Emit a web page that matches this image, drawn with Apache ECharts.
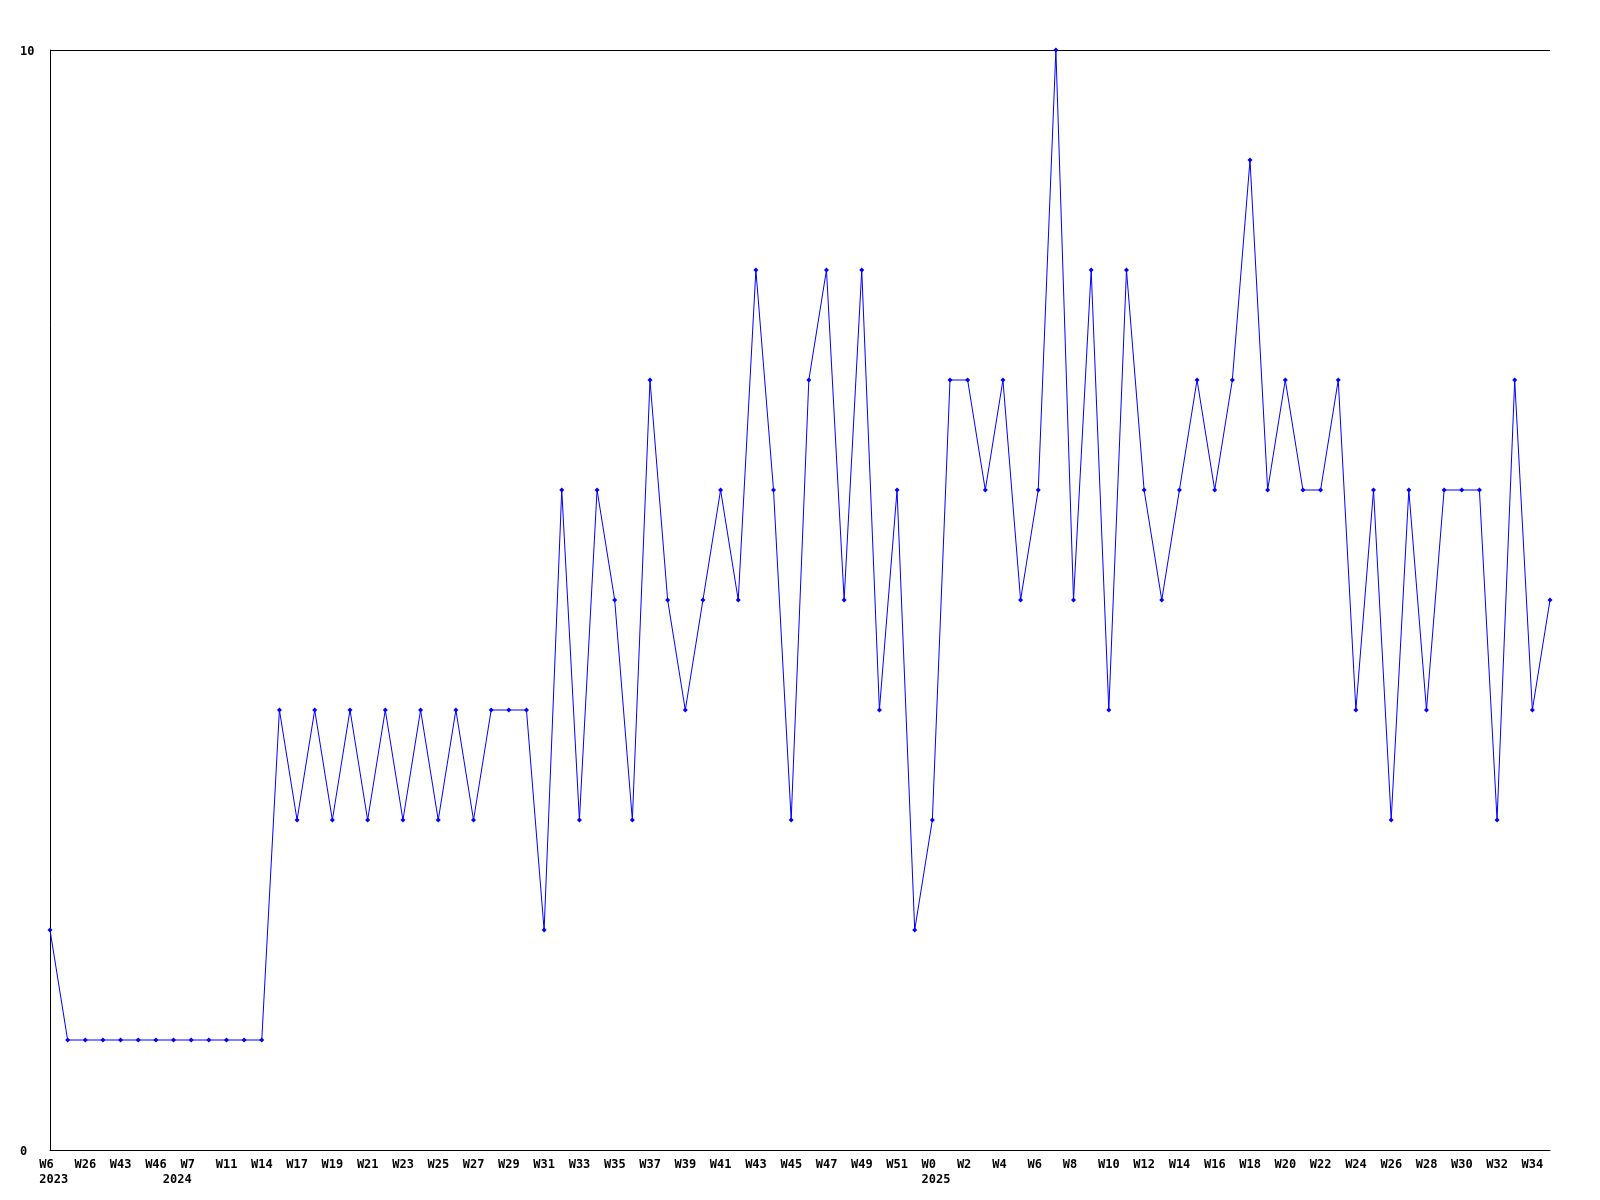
<!DOCTYPE html>
<html>
<head>
<meta charset="utf-8">
<style>html,body{margin:0;padding:0;background:#fff}#c{width:1600px;height:1200px}</style>
<script src="https://cdn.jsdelivr.net/npm/echarts@6/dist/echarts.min.js"></script>
</head>
<body>
<div id="c"></div>
<script>
const weeks = ['W6','W20','W26','W35','W43','W44','W46','W52','W7','W9','W11','W12','W14','W16',
  'W17','W18','W19','W20','W21','W22','W23','W24','W25','W26','W27','W28','W29','W30','W31','W32',
  'W33','W34','W35','W36','W37','W38','W39','W40','W41','W42','W43','W44','W45','W46','W47','W48',
  'W49','W50','W51','W52','W0','W1','W2','W3','W4','W5','W6','W7','W8','W9','W10','W11','W12','W13',
  'W14','W15','W16','W17','W18','W19','W20','W21','W22','W23','W24','W25','W26','W27','W28','W29',
  'W30','W31','W32','W33','W34','W35'];
const yearAt = {0:'2023', 7:'2024', 50:'2025'};
const values = [2,1,1,1,1,1,1,1,1,1,1,1,1,4,3,4,3,4,3,4,3,4,3,4,3,4,4,4,2,6,
  3,6,5,3,7,5,4,5,6,5,8,6,3,7,8,5,8,4,6,2,3,7,7,6,7,5,6,10,5,8,
  4,8,6,5,6,7,6,7,9,6,7,6,6,7,4,6,3,6,4,6,6,6,3,7,4,5];
const yTicks = [0, 10];

const chart = echarts.init(document.getElementById('c'));
chart.setOption({
  animation: false,
  backgroundColor: '#ffffff',
  grid: {left: 50, right: 50, top: 50, bottom: 50},
  xAxis: {
    type: 'category',
    data: weeks,
    boundaryGap: false,
    axisLine: {lineStyle: {color: '#000', width: 1}},
    axisTick: {show: false},
    axisLabel: {
      interval: function (i) { return i % 2 === 0 || !!yearAt[i]; },
      margin: 7,
      align: 'center',
      color: '#000',
      fontFamily: 'DejaVu Sans Mono',
      fontWeight: 'bold',
      fontSize: 12,
      formatter: function (v, i) {
        const top = (i % 2 === 0) ? v : '';
        return yearAt[i] ? '{a|' + top + '}\n{a|' + yearAt[i] + '}' : '{a|' + top + '}';
      },
      rich: {
        a: {width: 21.5, align: 'left', lineHeight: 15.5, fontFamily: 'DejaVu Sans Mono',
            fontWeight: 'bold', fontSize: 12, color: '#000'}
      }
    },
    splitLine: {show: false}
  },
  yAxis: {
    type: 'value',
    min: yTicks[0],
    max: yTicks[1],
    interval: 10,
    axisLine: {show: true, lineStyle: {color: '#000', width: 1}},
    axisTick: {show: false},
    axisLabel: {
      align: 'left',
      margin: 30,
      color: '#000',
      fontFamily: 'DejaVu Sans Mono',
      fontWeight: 'bold',
      fontSize: 12,
      formatter: function (v) { return '{b|' + v + '}'; },
      rich: {
        b: {padding: [3, 0, 0, 0], fontFamily: 'DejaVu Sans Mono', fontWeight: 'bold',
            fontSize: 12, color: '#000'}
      }
    },
    splitLine: {show: true, lineStyle: {color: '#000', width: 1}}
  },
  series: [{
    type: 'line',
    data: values,
    symbol: 'diamond',
    symbolSize: 5,
    showAllSymbol: true,
    clip: false,
    lineStyle: {color: '#0000ff', width: 1},
    itemStyle: {color: '#0000ff'}
  }]
});
</script>
</body>
</html>
